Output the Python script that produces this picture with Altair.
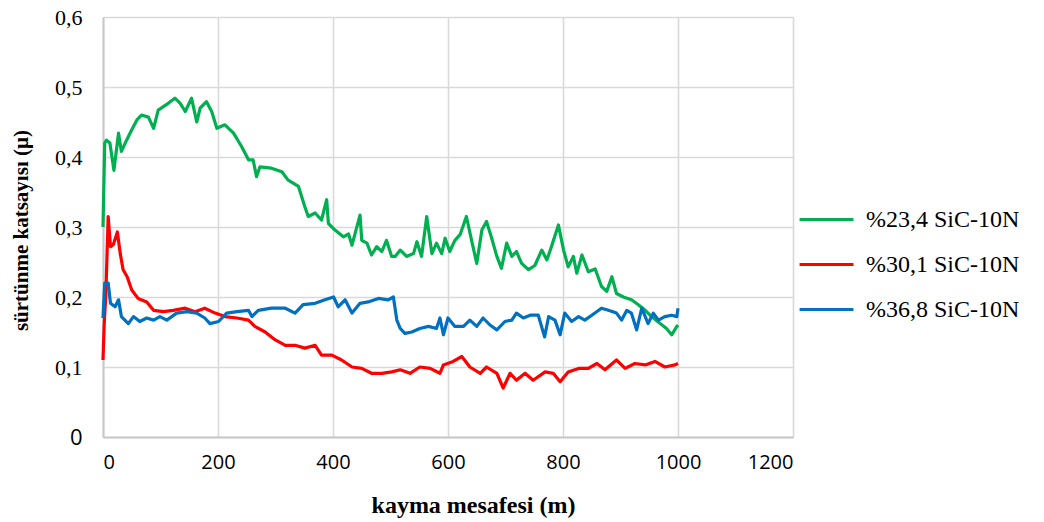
import altair as alt
import pandas as pd

# ---- data ----
series_names = ["%23,4 SiC-10N", "%30,1 SiC-10N", "%36,8 SiC-10N"]
series_colors = ["#00B050", "#FF0000", "#0070C0"]

green_x = [0, 3, 6, 12, 19, 27, 32, 41, 50, 59,
           67, 79, 88, 96, 105, 114, 125, 134, 143, 154,
           163, 169, 180, 189, 198, 212, 227, 241, 253, 261,
           267, 273, 293, 311, 322, 340, 351, 357, 369, 380,
           389, 392, 403, 418, 427, 433, 447, 450, 459, 467,
           476, 485, 493, 502, 508, 517, 528, 540, 546, 554,
           563, 572, 580, 589, 595, 603, 612, 621, 632, 641,
           650, 659, 667, 676, 685, 693, 702, 711, 719, 728,
           740, 751, 763, 772, 780, 792, 801, 809, 818, 824,
           833, 844, 856, 867, 876, 885, 893, 905, 919, 931,
           943, 954, 969, 980, 989, 998, 1000]
green_y = [0.30, 0.42, 0.424, 0.42, 0.381, 0.434, 0.408, 0.424, 0.439, 0.453,
           0.46, 0.457, 0.441, 0.467, 0.472, 0.477, 0.484, 0.477, 0.465, 0.484,
           0.45, 0.47, 0.479, 0.465, 0.441, 0.446, 0.434, 0.415, 0.396, 0.396,
           0.372, 0.386, 0.384, 0.379, 0.367, 0.358, 0.329, 0.315, 0.32, 0.31,
           0.339, 0.305, 0.296, 0.286, 0.29, 0.274, 0.317, 0.281, 0.277, 0.26,
           0.272, 0.265, 0.281, 0.258, 0.258, 0.267, 0.258, 0.262, 0.279, 0.258,
           0.315, 0.262, 0.277, 0.262, 0.284, 0.265, 0.281, 0.289, 0.315, 0.281,
           0.248, 0.296, 0.308, 0.284, 0.258, 0.241, 0.277, 0.258, 0.265, 0.248,
           0.239, 0.245, 0.267, 0.253, 0.272, 0.303, 0.267, 0.243, 0.258, 0.234,
           0.26, 0.236, 0.24, 0.215, 0.208, 0.229, 0.205, 0.2, 0.196, 0.189,
           0.181, 0.172, 0.162, 0.155, 0.146, 0.158, 0.16]

red_x = [0, 2, 5, 9, 13, 18, 25, 30, 35, 42,
         50, 61, 76, 88, 105, 122, 143, 160, 177, 195,
         212, 233, 253, 264, 282, 299, 317, 334, 351, 369,
         380, 398, 415, 433, 450, 467, 485, 502, 517, 534,
         551, 569, 586, 592, 609, 624, 638, 656, 667, 685,
         696, 708, 719, 734, 748, 769, 783, 795, 809, 827,
         844, 859, 873, 893, 908, 925, 943, 960, 977, 995,
         1000]
red_y = [0.11, 0.16, 0.205, 0.315, 0.272, 0.275, 0.293, 0.262, 0.239, 0.229,
         0.21, 0.198, 0.193, 0.181, 0.179, 0.181, 0.184, 0.179, 0.184, 0.177,
         0.172, 0.17, 0.167, 0.158, 0.15, 0.139, 0.131, 0.131, 0.127, 0.131,
         0.117, 0.117, 0.11, 0.1, 0.098, 0.091, 0.091, 0.093, 0.096, 0.091,
         0.1, 0.098, 0.091, 0.103, 0.108, 0.115, 0.1, 0.091, 0.1, 0.091,
         0.07, 0.091, 0.081, 0.091, 0.081, 0.093, 0.091, 0.079, 0.093, 0.098,
         0.098, 0.105, 0.096, 0.11, 0.098, 0.105, 0.103, 0.108, 0.1, 0.103,
         0.105]

blue_x = [0, 3, 9, 13, 21, 27, 32, 44, 53, 64,
          76, 88, 99, 111, 128, 146, 163, 177, 186, 201,
          215, 233, 253, 259, 270, 293, 317, 334, 348, 369,
          386, 401, 409, 421, 433, 447, 461, 479, 496, 505,
          511, 517, 525, 537, 551, 566, 580, 586, 592, 600,
          612, 627, 638, 650, 661, 673, 685, 699, 711, 719,
          731, 743, 757, 768, 775, 786, 795, 803, 815, 827,
          838, 850, 867, 879, 893, 902, 911, 919, 928, 937,
          948, 957, 966, 977, 989, 998, 1000]
blue_y = [0.17, 0.22, 0.22, 0.191, 0.186, 0.196, 0.172, 0.162, 0.172, 0.165,
          0.17, 0.167, 0.172, 0.167, 0.177, 0.179, 0.177, 0.17, 0.162, 0.165,
          0.177, 0.179, 0.181, 0.172, 0.181, 0.184, 0.184, 0.177, 0.189, 0.191,
          0.196, 0.2, 0.186, 0.196, 0.177, 0.191, 0.193, 0.198, 0.196, 0.2,
          0.167, 0.155, 0.148, 0.15, 0.155, 0.158, 0.155, 0.17, 0.146, 0.17,
          0.158, 0.158, 0.167, 0.158, 0.17, 0.16, 0.153, 0.165, 0.167, 0.177,
          0.17, 0.174, 0.174, 0.143, 0.172, 0.167, 0.146, 0.177, 0.165, 0.172,
          0.167, 0.174, 0.184, 0.181, 0.177, 0.167, 0.181, 0.177, 0.153, 0.184,
          0.162, 0.177, 0.167, 0.172, 0.174, 0.172, 0.184]

x_ticks = [0, 200, 400, 600, 800, 1000, 1200]
y_ticks = [0, 0.1, 0.2, 0.3, 0.4, 0.5, 0.6]

assert len(green_x) == len(green_y)
assert len(red_x) == len(red_y)
assert len(blue_x) == len(blue_y)

rows = []
for name, xs, ys in zip(series_names, [green_x, red_x, blue_x], [green_y, red_y, blue_y]):
    for i, (xv, yv) in enumerate(zip(xs, ys)):
        rows.append({"seri": name, "x": xv, "y": yv, "sira": i})
df = pd.DataFrame(rows)

serif = "Liberation Serif"
sans = "Open Sans"

chart = alt.Chart(df).mark_line(strokeWidth=3.2, strokeJoin="round").encode(
    x=alt.X("x:Q",
            scale=alt.Scale(domain=[0, 1200], nice=False, zero=False),
            axis=alt.Axis(values=x_ticks, format="d", title="kayma mesafesi (m)",
                          labelFont=sans, labelFontSize=20, labelColor="#000000",
                          labelPadding=15, ticks=False, tickSize=0,
                          titleFont=serif, titleFontSize=24, titleFontWeight="bold",
                          titleColor="#000000", titleX=370, titleY=68,
                          titleBaseline="middle",
                          grid=True, gridColor="#D9D9D9", gridWidth=1.6,
                          domainColor="#C8C8C8", domainWidth=2)),
    y=alt.Y("y:Q",
            scale=alt.Scale(domain=[0, 0.6], nice=False, zero=False),
            axis=alt.Axis(values=y_ticks, title="sürtünme katsayısı (µ)",
                          labelExpr="datum.value == 0 ? '0' : replace(format(datum.value, '.1f'), '.', ',')",
                          labelFont={"condition": {"test": "datum.value == 0", "value": sans}, "value": serif},
                          labelFontSize=22, labelColor="#000000",
                          labelPadding=21, ticks=False, tickSize=0,
                          titleFont=serif, titleFontSize=21, titleFontWeight="bold",
                          titleColor="#000000", titleX=-72, titleY=213,
                          grid=True, gridColor="#D9D9D9", gridWidth=1.6,
                          domainColor="#C8C8C8", domainWidth=2)),
    color=alt.Color("seri:N",
                    scale=alt.Scale(domain=series_names, range=series_colors),
                    legend=alt.Legend(title=None, orient="none", legendX=695, legendY=174,
                                      symbolType="stroke", symbolStrokeWidth=3,
                                      symbolSize=2900, labelFont=serif, labelFontSize=24,
                                      labelColor="#000000", labelOffset=11,
                                      rowPadding=4)),
    order="sira:Q",
).properties(
    width=690, height=420,
    autosize=alt.AutoSizeParams(type="none"),
    padding={"left": 103, "top": 17, "right": 251, "bottom": 85},
).configure_view(stroke=None).configure(background="#FFFFFF")

chart.save("out.html", embed_options={"renderer": "svg", "actions": False})
